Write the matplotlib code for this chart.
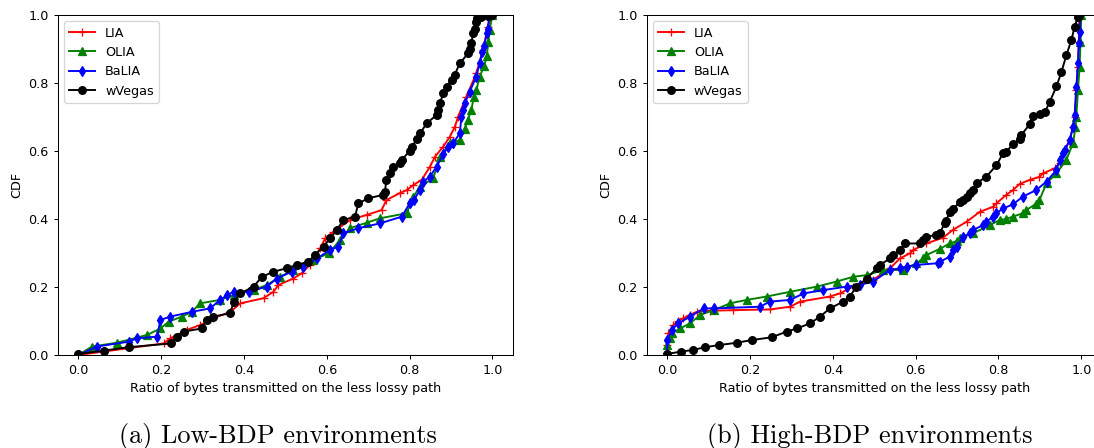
import matplotlib
matplotlib.use("Agg")
import matplotlib.pyplot as plt

# ---------------- data ----------------
series_names = ["LIA", "OLIA", "BaLIA", "wVegas"]
xticks = [0.0, 0.2, 0.4, 0.6, 0.8, 1.0]
yticks = [0.0, 0.2, 0.4, 0.6, 0.8, 1.0]
xlabel = "Ratio of bytes transmitted on the less lossy path"
ylabel = "CDF"
captions = ["(a) Low-BDP environments", "(b) High-BDP environments"]

# Low-BDP
low_lia_x = [0.0, 0.206, 0.222, 0.262, 0.294, 0.326, 0.367, 0.391, 0.447, 0.471, 0.483, 0.519, 0.539,
             0.559, 0.584, 0.596, 0.616, 0.656, 0.696, 0.732, 0.744, 0.776, 0.793, 0.809, 0.829, 0.849,
             0.861, 0.881, 0.897, 0.909, 0.917, 0.937, 0.961, 0.977, 0.989, 0.998]
low_lia_y = [0.0, 0.034, 0.049, 0.074, 0.088, 0.108, 0.127, 0.152, 0.167, 0.186, 0.206, 0.225, 0.24,
             0.265, 0.314, 0.343, 0.363, 0.397, 0.412, 0.426, 0.456, 0.476, 0.485, 0.5, 0.515, 0.554,
             0.583, 0.613, 0.642, 0.671, 0.701, 0.76, 0.829, 0.897, 0.966, 1.0]

low_olia_x = [0.0, 0.033, 0.093, 0.166, 0.198, 0.218, 0.25, 0.274, 0.294, 0.342, 0.375, 0.423, 0.455,
              0.487, 0.519, 0.567, 0.604, 0.632, 0.656, 0.696, 0.728, 0.793, 0.809, 0.825, 0.857, 0.873,
              0.897, 0.921, 0.933, 0.940, 0.949, 0.955, 0.961, 0.969, 0.980, 0.986, 0.990, 0.993, 1.0]
low_olia_y = [0.0, 0.025, 0.036, 0.059, 0.078, 0.098, 0.113, 0.127, 0.152, 0.162, 0.176, 0.191, 0.206,
              0.23, 0.25, 0.279, 0.299, 0.338, 0.373, 0.389, 0.402, 0.417, 0.466, 0.495, 0.52, 0.583,
              0.623, 0.632, 0.665, 0.691, 0.721, 0.76, 0.779, 0.819, 0.85, 0.878, 0.92, 0.956, 1.0]

low_balia_x = [0.0, 0.045, 0.121, 0.141, 0.19, 0.198, 0.222, 0.274, 0.318, 0.342, 0.359, 0.375, 0.411,
               0.455, 0.479, 0.515, 0.543, 0.576, 0.608, 0.628, 0.64, 0.676, 0.728, 0.781, 0.8, 0.81,
               0.825, 0.833, 0.849, 0.865, 0.881, 0.893, 0.905, 0.921, 0.925, 0.929, 0.933, 0.945, 0.961,
               0.969, 0.975, 0.980, 0.986, 0.988, 0.993]
low_balia_y = [0.0, 0.025, 0.039, 0.049, 0.054, 0.103, 0.113, 0.127, 0.137, 0.162, 0.176, 0.186, 0.186,
               0.201, 0.225, 0.245, 0.26, 0.284, 0.309, 0.319, 0.358, 0.373, 0.387, 0.407, 0.446, 0.456,
               0.485, 0.51, 0.525, 0.554, 0.59, 0.613, 0.623, 0.652, 0.701, 0.721, 0.74, 0.775, 0.819,
               0.858, 0.89, 0.91, 0.946, 0.96, 1.0]

low_wvegas_x = [0.0, 0.061, 0.121, 0.224, 0.238, 0.254, 0.298, 0.31, 0.326, 0.367, 0.375, 0.391, 0.423,
                0.443, 0.471, 0.503, 0.527, 0.555, 0.571, 0.592, 0.608, 0.624, 0.64, 0.668, 0.676, 0.7,
                0.736, 0.74, 0.744, 0.752, 0.76, 0.776, 0.781, 0.8, 0.806, 0.817, 0.825, 0.841, 0.865,
                0.869, 0.873, 0.881, 0.889, 0.901, 0.909, 0.921, 0.941, 0.945, 0.949, 0.953, 0.957,
                0.961, 0.963, 0.972, 0.99, 1.0]
low_wvegas_y = [0.003, 0.013, 0.023, 0.034, 0.054, 0.069, 0.078, 0.103, 0.113, 0.123, 0.157, 0.181, 0.201,
                0.23, 0.245, 0.255, 0.265, 0.274, 0.294, 0.319, 0.343, 0.368, 0.397, 0.407, 0.446, 0.461,
                0.471, 0.48, 0.515, 0.535, 0.554, 0.564, 0.574, 0.6, 0.613, 0.635, 0.652, 0.681, 0.706,
                0.72, 0.74, 0.77, 0.789, 0.81, 0.825, 0.858, 0.887, 0.9, 0.917, 0.946, 0.96,
                0.98, 0.99, 0.995, 0.998, 1.0]

# High-BDP
high_lia_x = [0.0, 0.0, 0.003, 0.015, 0.027, 0.039, 0.055, 0.072, 0.104, 0.16, 0.248, 0.297, 0.321,
              0.393, 0.417, 0.449, 0.497, 0.538, 0.562, 0.586, 0.594, 0.626, 0.666, 0.69, 0.723, 0.755,
              0.787, 0.795, 0.819, 0.835, 0.851, 0.875, 0.899, 0.907, 0.936, 0.948, 0.96, 0.972, 0.98,
              0.984, 0.988, 0.992, 0.994, 0.995]
high_lia_y = [0.0, 0.03, 0.064, 0.088, 0.1, 0.108, 0.118, 0.127, 0.13, 0.132, 0.134, 0.142, 0.157,
              0.172, 0.181, 0.201, 0.221, 0.255, 0.284, 0.299, 0.309, 0.328, 0.345, 0.368, 0.392, 0.421,
              0.436, 0.446, 0.471, 0.485, 0.503, 0.515, 0.524, 0.534, 0.549, 0.564, 0.6, 0.632, 0.67,
              0.701, 0.78, 0.848, 0.92, 1.0]

high_olia_x = [0.0, 0.0, 0.006, 0.011, 0.031, 0.055, 0.08, 0.112, 0.152, 0.192, 0.24, 0.297, 0.361,
               0.409, 0.449, 0.482, 0.522, 0.57, 0.602, 0.618, 0.626, 0.658, 0.682, 0.699, 0.707, 0.739,
               0.779, 0.803, 0.819, 0.835, 0.859, 0.867, 0.891, 0.899, 0.916, 0.94, 0.964, 0.98, 0.986,
               0.988, 0.992, 0.996, 0.998, 1.0]
high_olia_y = [0.0, 0.03, 0.05, 0.064, 0.078, 0.093, 0.118, 0.132, 0.152, 0.162, 0.172, 0.186, 0.201,
               0.216, 0.23, 0.235, 0.25, 0.25, 0.27, 0.284, 0.294, 0.312, 0.328, 0.335, 0.343, 0.358,
               0.382, 0.397, 0.4, 0.407, 0.417, 0.426, 0.445, 0.456, 0.505, 0.534, 0.574, 0.623, 0.67,
               0.701, 0.78, 0.848, 0.92, 1.0]

high_balia_x = [0.0, 0.0, 0.011, 0.027, 0.055, 0.088, 0.112, 0.224, 0.248, 0.297, 0.329, 0.377, 0.433,
                0.465, 0.497, 0.538, 0.562, 0.578, 0.602, 0.654, 0.658, 0.682, 0.69, 0.699, 0.715, 0.731,
                0.739, 0.763, 0.771, 0.787, 0.795, 0.811, 0.835, 0.859, 0.891, 0.916, 0.94, 0.948, 0.956,
                0.96, 0.972, 0.98, 0.984, 0.988, 0.992, 0.994, 0.996, 0.998]
high_balia_y = [0.0, 0.044, 0.074, 0.093, 0.113, 0.137, 0.137, 0.142, 0.157, 0.162, 0.181, 0.191, 0.201,
                0.206, 0.216, 0.25, 0.255, 0.26, 0.265, 0.27, 0.274, 0.289, 0.309, 0.319, 0.348, 0.358,
                0.368, 0.382, 0.392, 0.407, 0.417, 0.431, 0.443, 0.466, 0.485, 0.51, 0.544, 0.574, 0.593,
                0.603, 0.632, 0.671, 0.706, 0.789, 0.858, 0.917, 0.95, 1.0]

high_wvegas_x = [0.0, 0.033, 0.063, 0.092, 0.124, 0.168, 0.204, 0.252, 0.289, 0.313, 0.345, 0.369, 0.393,
                 0.425, 0.441, 0.457, 0.482, 0.506, 0.514, 0.538, 0.546, 0.562, 0.574, 0.61, 0.618, 0.626,
                 0.65, 0.658, 0.67, 0.674, 0.682, 0.691, 0.707, 0.715, 0.723, 0.731, 0.739, 0.747, 0.771,
                 0.795, 0.811, 0.819, 0.835, 0.851, 0.855, 0.875, 0.883, 0.9, 0.912, 0.924, 0.94, 0.952,
                 0.964, 0.976, 0.984, 0.992, 0.995]
high_wvegas_y = [0.003, 0.01, 0.015, 0.023, 0.029, 0.036, 0.044, 0.052, 0.069, 0.078, 0.093, 0.113, 0.137,
                 0.157, 0.172, 0.201, 0.225, 0.255, 0.265, 0.284, 0.294, 0.309, 0.328, 0.328, 0.338, 0.348,
                 0.353, 0.358, 0.387, 0.395, 0.421, 0.43, 0.451, 0.456, 0.466, 0.476, 0.485, 0.505, 0.525,
                 0.558, 0.593, 0.598, 0.62, 0.635, 0.647, 0.678, 0.703, 0.708, 0.714, 0.745, 0.79, 0.832,
                 0.882, 0.926, 0.966, 0.995, 1.0]

low_data = [(low_lia_x, low_lia_y), (low_olia_x, low_olia_y),
            (low_balia_x, low_balia_y), (low_wvegas_x, low_wvegas_y)]
high_data = [(high_lia_x, high_lia_y), (high_olia_x, high_olia_y),
             (high_balia_x, high_balia_y), (high_wvegas_x, high_wvegas_y)]

# ---------------- styles ----------------
colors = ["red", "green", "blue", "black"]
markers = ["+", "^", "d", "o"]

DPI = 92
fig = plt.figure(figsize=(1094 / DPI, 448 / DPI), dpi=DPI)

ax_w = 455.5 / 1094
ax_h = 340 / 448
ax_b = (448 - 355) / 448
axes = [fig.add_axes([57.7 / 1094, ax_b, ax_w, ax_h]),
        fig.add_axes([646.5 / 1094, ax_b, ax_w, ax_h])]

for ax, data in zip(axes, [low_data, high_data]):
    for (xs, ys), name, c, m in zip(data, series_names, colors, markers):
        ax.plot(xs, ys, color=c, marker=m, label=name, linewidth=1.5, markersize=6)
    ax.set_ylim(0, 1)
    ax.set_xlim(-0.05, 1.05)
    ax.set_xticks(xticks)
    ax.set_yticks(yticks)
    ax.set_xlabel(xlabel)
    ax.set_ylabel(ylabel)
    ax.legend(loc="upper left")

fig.text(278 / 1094, 1 - 436 / 448, captions[0], fontfamily="cmr10", fontsize=20.5,
         ha="center", va="center")
fig.text(870 / 1094, 1 - 436 / 448, captions[1], fontfamily="cmr10", fontsize=20.5,
         ha="center", va="center")

fig.savefig("out.png", dpi=DPI)
